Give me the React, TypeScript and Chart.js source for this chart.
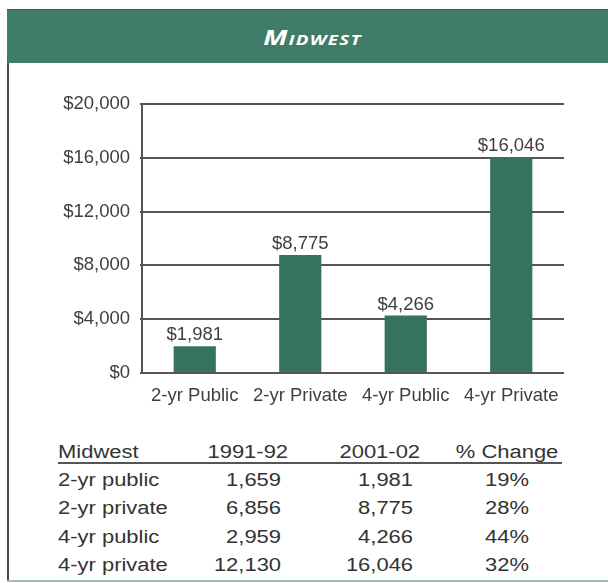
import React, { useEffect, useRef } from 'react';
import { Chart, registerables } from 'chart.js';

Chart.register(...registerables);

// ---- chart data ----
const categories = ['2-yr Public', '2-yr Private', '4-yr Public', '4-yr Private'];
const tuition2001 = [1981, 8775, 4266, 16046];
const yMin = 0;
const yMax = 20000;
const yStep = 4000;

// ---- table data ----
const tableHeader = ['Midwest', '1991-92', '2001-02', '% Change'];
const rowLabels = ['2-yr public', '2-yr private', '4-yr public', '4-yr private'];
const values1991 = ['1,659', '6,856', '2,959', '12,130'];
const values2001 = ['1,981', '8,775', '4,266', '16,046'];
const pctChange = ['19%', '28%', '44%', '32%'];

const TITLE = 'Midwest';

const FONT = '"Liberation Sans", Arial, Helvetica, sans-serif';
const TEXT = '#3f3f3f';
const GRID = '#555555';
const BAR = '#36735f';
const BAND = '#3f7d68';

const money = (v: number) => '$' + Number(v).toLocaleString('en-US');

const valueLabels = {
  id: 'valueLabels',
  afterDatasetsDraw(chart: any) {
    const ctx = chart.ctx;
    const meta = chart.getDatasetMeta(0);
    ctx.save();
    ctx.font = `18.5px ${FONT}`;
    ctx.fillStyle = TEXT;
    ctx.textAlign = 'center';
    ctx.textBaseline = 'alphabetic';
    meta.data.forEach((el: any, i: number) => {
      ctx.fillText(money(tuition2001[i]), el.x, el.y - 6);
    });
    ctx.restore();
  },
};

function BarChart() {
  const ref = useRef<HTMLCanvasElement | null>(null);
  useEffect(() => {
    if (!ref.current) return;
    const chart = new Chart(ref.current, {
      type: 'bar',
      data: {
        labels: categories,
        datasets: [
          {
            data: tuition2001,
            backgroundColor: BAR,
            borderWidth: 0,
            barPercentage: 0.4,
            categoryPercentage: 1.0,
          },
        ],
      },
      options: {
        animation: false,
        responsive: false,
        maintainAspectRatio: false,
        layout: { padding: { top: 40, right: 44, left: 0, bottom: 0 } },
        plugins: {
          legend: { display: false },
          tooltip: { enabled: false },
          title: { display: false },
        },
        scales: {
          x: {
            grid: { display: false, drawTicks: false },
            border: { display: false },
            ticks: {
              color: TEXT,
              font: { family: FONT, size: 18.5 },
              padding: 12,
              maxRotation: 0,
              autoSkip: false,
            },
            afterFit(s: any) {
              s.height = 51;
            },
          },
          y: {
            min: yMin,
            max: yMax,
            ticks: {
              stepSize: yStep,
              padding: 10,
              color: TEXT,
              font: { family: FONT, size: 18.5 },
              callback: (v: any) => money(v),
            },
            grid: { color: GRID, lineWidth: 2, tickLength: 2, drawTicks: true },
            border: { display: true, color: GRID, width: 2 },
            afterFit(s: any) {
              s.width = 142;
            },
          },
        },
      },
      plugins: [valueLabels],
    } as any);
    return () => chart.destroy();
  }, []);
  return (
    <canvas
      ref={ref}
      width={608}
      height={360}
      style={{ position: 'absolute', left: 0, top: 64, width: 608, height: 360 }}
    />
  );
}

const STRETCH = 1.22;

function Cell(props: { text: string; x: number; cy: number; align: 'left' | 'right' | 'center' }) {
  const { text, x, cy, align } = props;
  const w = 200;
  const left = align === 'left' ? x : align === 'right' ? x - w : x - w / 2;
  return (
    <div
      style={{
        position: 'absolute',
        left,
        top: cy - 12,
        width: w,
        height: 24,
        lineHeight: '24px',
        textAlign: align,
        fontFamily: FONT,
        fontSize: 18,
        color: '#333333',
        whiteSpace: 'nowrap',
      }}
    >
      <span
        style={{
          display: 'inline-block',
          transform: `scaleX(${STRETCH})`,
          transformOrigin: align === 'left' ? 'left center' : align === 'right' ? 'right center' : 'center center',
        }}
      >
        {text}
      </span>
    </div>
  );
}

export default function App() {
  const rowY = [480, 508, 537, 565];
  return (
    <div
      style={{
        position: 'absolute',
        left: 0,
        top: 0,
        width: 608,
        height: 583,
        background: '#ffffff',
        overflow: 'hidden',
      }}
    >
      {/* header band */}
      <div
        style={{
          position: 'absolute',
          left: 7,
          top: 9,
          width: 601,
          height: 54,
          background: BAND,
          borderTop: '1px solid #2e5f4f',
          boxSizing: 'border-box',
        }}
      />
      <div
        style={{
          position: 'absolute',
          left: 162,
          top: 14,
          width: 300,
          height: 44,
          lineHeight: '44px',
          textAlign: 'center',
          color: '#ffffff',
          fontFamily: '"Open Sans", "Noto Sans", sans-serif',
          fontStyle: 'italic',
          fontWeight: 700,
          fontVariant: 'small-caps',
          fontSize: 22,
          letterSpacing: 1,
        }}
      >
        <span style={{ display: 'inline-block', transform: 'scaleX(1.25)', transformOrigin: 'center center' }}>
          {TITLE}
        </span>
      </div>
      {/* left frame line */}
      <div style={{ position: 'absolute', left: 7, top: 63, width: 2, height: 519, background: '#4a4a4a' }} />
      {/* bottom frame line */}
      <div style={{ position: 'absolute', left: 7, top: 580, width: 601, height: 2, background: '#9cbdb0' }} />

      <BarChart />

      {/* table */}
      <Cell text={tableHeader[0]} x={58} cy={452} align="left" />
      <Cell text={tableHeader[1]} x={288} cy={452} align="right" />
      <Cell text={tableHeader[2]} x={420} cy={452} align="right" />
      <Cell text={tableHeader[3]} x={507} cy={452} align="center" />
      <div style={{ position: 'absolute', left: 58, top: 462, width: 504, height: 2, background: '#555555' }} />
      {rowLabels.map((label, i) => (
        <React.Fragment key={label}>
          <Cell text={label} x={58} cy={rowY[i]} align="left" />
          <Cell text={values1991[i]} x={281} cy={rowY[i]} align="right" />
          <Cell text={values2001[i]} x={413} cy={rowY[i]} align="right" />
          <Cell text={pctChange[i]} x={507} cy={rowY[i]} align="center" />
        </React.Fragment>
      ))}
    </div>
  );
}
